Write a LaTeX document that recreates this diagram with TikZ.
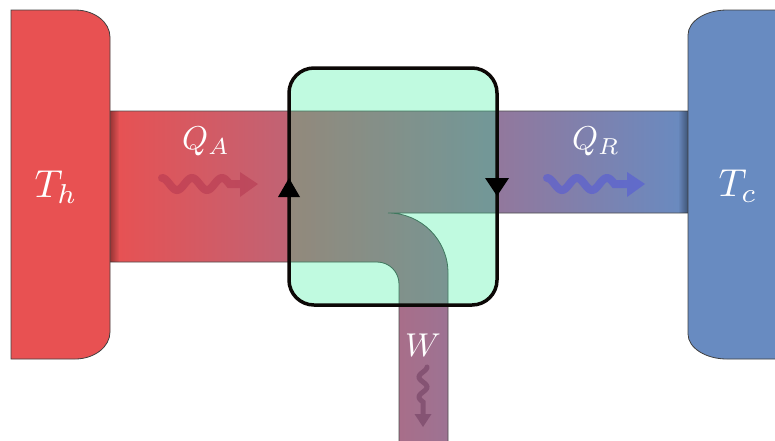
\documentclass[tikz,border=0pt]{standalone}
\usetikzlibrary{fadings}
\definecolor{hot}{RGB}{232,81,82}
\definecolor{cold}{RGB}{104,139,193}
\definecolor{mint}{RGB}{30,237,144}
\definecolor{qacol}{RGB}{180,55,80}
\definecolor{qrcol}{RGB}{85,90,215}
\definecolor{wcol}{RGB}{105,55,90}
\definecolor{rim}{RGB}{12,8,6}
\tikzfading[name=fadeRight, left color=transparent!0, right color=transparent!100]
\tikzfading[name=fadeLeft, left color=transparent!100, right color=transparent!0]
\tikzset{
  reservoir/.style={line width=0.8pt, draw=black!75},
  lbl/.style={text=white, inner sep=0pt},
  wavy/.style={line width=#1, line cap=round},
  tri/.style={fill=black, draw=none},
}
\begin{document}
\begin{tikzpicture}[x=1pt,y=-1pt]
\useasboundingbox (0,0) rectangle (775,440);
\clip (0,0) rectangle (775,440);

% band (heat flow)
\path[left color=hot, right color=cold]
  (110,111) -- (688,111) -- (688,213) -- (388,213)
  .. controls (421.1,213) and (448,239.9) .. (448,273)
  -- (448,441) -- (399,441) -- (399,284)
  .. controls (399,271.8) and (389.2,262) .. (377,262)
  -- (110,262) -- cycle;
\draw[line width=0.8pt, black!70]
  (110,111) -- (688,111)
  (688,213) -- (388,213)
  .. controls (421.1,213) and (448,239.9) .. (448,273)
  -- (448,441)
  (399,441) -- (399,284)
  .. controls (399,271.8) and (389.2,262) .. (377,262)
  -- (110,262);
% shadows at band ends
\fill[black, fill opacity=0.35, path fading=fadeRight] (110,111) rectangle (119,262);
\fill[black, fill opacity=0.4, path fading=fadeLeft] (678,111) rectangle (688,213);

% reservoirs
\path[reservoir, fill=hot]
  (11,10) -- (75,10) .. controls (94.3,10) and (110,22.1) .. (110,37)
  -- (110,332) .. controls (110,346.9) and (94.3,359) .. (75,359)
  -- (11,359) -- cycle;
\path[reservoir, fill=cold]
  (780,10) -- (727,10) .. controls (705.5,10) and (688,21.2) .. (688,35)
  -- (688,334) .. controls (688,347.8) and (705.5,359) .. (727,359)
  -- (780,359) -- cycle;

% wavy arrows
\begin{scope}[transparency group, opacity=0.55]
  \draw[wavy=8pt, qacol] plot[domain=0:67.5, samples=60, variable=\t] ({162+\t},{184-6*cos(\t*12)}) -- (241,184);
  \fill[qacol] (240,172) -- (258,184) -- (240,197) -- cycle;
\end{scope}
\begin{scope}[transparency group, opacity=0.6]
  \draw[wavy=8pt, qrcol] plot[domain=0:67.5, samples=60, variable=\t] ({547+\t},{184-6*cos(\t*12)}) -- (628,184);
  \fill[qrcol] (627,172) -- (645,184) -- (627,197) -- cycle;
\end{scope}
\begin{scope}[transparency group, opacity=0.5]
  \draw[wavy=5pt, wcol] plot[domain=0:35, samples=40, variable=\t] ({423+4*cos(\t*18)},{367+\t}) -- (423,415);
  \fill[wcol] (414.5,414) -- (423,427) -- (431.5,414) -- cycle;
\end{scope}

% engine
\node[draw=rim, line width=3.5pt, fill=mint, fill opacity=0.28, draw opacity=1,
      rounded corners=25pt, minimum width=208pt, minimum height=237pt,
      inner sep=0pt] (engine) at (393,186.5) {};
\fill[tri] (289,178) -- (300,197) -- (278,197) -- cycle;
\fill[tri] (497,196) -- (485,178) -- (509,178) -- cycle;

% labels
\node[lbl, scale=3.9] (Th) at (56,187) {$T_h$};
\node[lbl, scale=3.9] (Tc) at (738,186) {$T_c$};
\node[lbl, scale=3.3] (QA) at (206,141) {$Q_A$};
\node[lbl, scale=3.3] (QR) at (596,141) {$Q_R$};
\node[lbl, scale=3.3] (W) at (423,345) {$W$};
\end{tikzpicture}
\end{document}
